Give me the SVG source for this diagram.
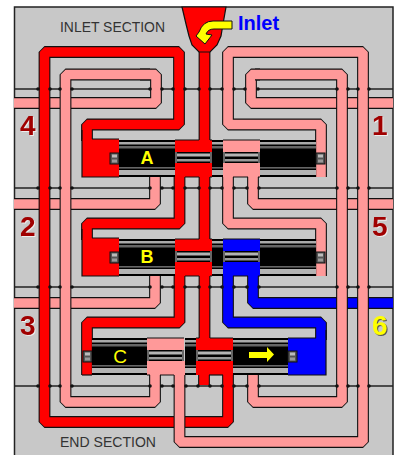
<svg xmlns="http://www.w3.org/2000/svg" width="400" height="455" viewBox="0 0 400 455">
<style>
.o{fill:none;stroke:#111;stroke-width:11.8;stroke-linejoin:bevel}
.r,.p,.b{fill:none;stroke-width:9.6;stroke-linejoin:bevel}
.r{stroke:#f00}.p{stroke:#f99}.b{stroke:#00f}
.fr{fill:#f00}.fp{fill:#f99}.fb{fill:#00f}
.e{fill:none;stroke:#111;stroke-width:1.2}
.rule{fill:none;stroke:#222;stroke-width:1.6}
.dot{fill:none;stroke:#111;stroke-width:3.6;stroke-linecap:round}
.sec{font:14px "Liberation Sans",Arial,sans-serif;fill:#333}
.num{font:bold 28px "Liberation Sans",Arial,sans-serif;fill:#a00000;filter:drop-shadow(1px 1px 0 #eee)}
.let{font:bold 18px "Liberation Sans",Arial,sans-serif;fill:#ff0;text-anchor:middle}
</style>
<defs>
<g id="bar"><rect width="1" height="37" fill="#000"/><rect y="2" width="1" height="2.5" fill="#aaa"/><rect y="6" width="1" height="2.5" fill="#666"/><rect y="27" width="1" height="1.6" fill="#666"/><rect y="30" width="1" height="5" fill="#b4b4b4"/></g>
<g id="rod"><rect width="37" height="11" fill="#000"/><rect y="1.5" width="37" height="3" fill="#b4b4b4"/><rect y="7" width="37" height="2.5" fill="#999"/><rect width="2" height="11" fill="#666"/><rect x="35" width="2" height="11" fill="#666"/></g>
<g id="nub"><rect width="9" height="11" fill="#555" stroke="#111"/><rect x="2" y="1.5" width="5" height="3" fill="#bbb"/><rect x="2" y="6.5" width="5" height="3" fill="#999"/></g>
<path id="c1" d="M87 141V124.5H179V52H44.5V422H228V374"/>
<path id="c2" d="M87 240V223.5H179.5V175"/>
<path id="c3" d="M87 375V322.5H179.5V274"/>
<path id="s1" d="M204.5 45V142"/>
<path id="s2" d="M204.5 175V241"/>
<path id="s3" d="M204.5 274V340"/>
<path id="s4" d="M204 373V385"/>
<path id="b4" d="M140 74.5H156V103H14"/>
<path id="l4" d="M155 372V402H65.5V74.5H150"/>
<path id="b2" d="M155 175V204H14"/>
<path id="b3" d="M155 274V303H14"/>
<path id="b1" d="M260 74.5H251V103H393"/>
<path id="l1" d="M253 372V402H342V74.5H255"/>
<path id="b5" d="M253 175V204H393"/>
<path id="b6" d="M253 274V303H393"/>
<path id="l5" d="M179.5 372V442H363V52H228V124.5H321V177"/>
<path id="l6" d="M228 175V223.5H321V276"/>
<path id="l7" d="M228 274V322.5H321V340"/>
</defs>
<rect width="400" height="455" fill="#fff"/>
<rect x="14.5" y="7" width="378.5" height="460" fill="#c8c8c8" stroke="#222" stroke-width="1.5"/>
<g id="connectors">
<path class="rule" d="M14 89H393M14 188H393M14 287H393M14 386H393"/>
<use href="#b4" class="o"/><use href="#b4" class="p"/>
<use href="#b2" class="o"/><use href="#b2" class="p"/>
<use href="#b3" class="o"/><use href="#b3" class="p"/>
<use href="#b1" class="o"/><use href="#b1" class="p"/>
<use href="#b5" class="o"/><use href="#b5" class="p"/>
<use href="#b6" class="o"/><use href="#b6" class="b"/>
<use href="#c1" class="o"/><use href="#c1" class="r"/>
<use href="#c2" class="o"/><use href="#c2" class="r"/>
<use href="#c3" class="o"/><use href="#c3" class="r"/>
<use href="#s1" class="o"/><use href="#s1" class="r"/>
<use href="#s2" class="o"/><use href="#s2" class="r"/>
<use href="#s3" class="o"/><use href="#s3" class="r"/>
<use href="#s4" class="o"/><use href="#s4" class="r"/>
<use href="#l7" class="o"/><use href="#l7" class="b"/>
<use href="#l6" class="o"/><use href="#l6" class="p"/>
<use href="#l4" class="o"/><use href="#l4" class="p"/>
<use href="#l1" class="o"/><use href="#l1" class="p"/>
<use href="#l5" class="o"/><use href="#l5" class="p"/>
<path class="dot" d="M38 89h.01M50 89h.01M60 89h.01M72 89h.01M150 89h.01M162 89h.01M173 89h.01M185 89h.01M199 89h.01M210 89h.01M222 89h.01M234 89h.01M245 89h.01M258 89h.01M337 89h.01M348 89h.01M358 89h.01M369 89h.01
M38 188h.01M50 188h.01M60 188h.01M72 188h.01M150 188h.01M162 188h.01M173 188h.01M185 188h.01M199 188h.01M210 188h.01M222 188h.01M234 188h.01M247 188h.01M259 188h.01M337 188h.01M348 188h.01M358 188h.01M369 188h.01
M38 287h.01M50 287h.01M60 287h.01M72 287h.01M150 287h.01M162 287h.01M173 287h.01M185 287h.01M199 287h.01M210 287h.01M222 287h.01M234 287h.01M247 287h.01M259 287h.01M337 287h.01M348 287h.01M358 287h.01M369 287h.01
M38 386h.01M50 386h.01M60 386h.01M72 386h.01M150 386h.01M162 386h.01M173 386h.01M186 386h.01M198 386h.01M210 386h.01M222 386h.01M234 386h.01M247 386h.01M259 386h.01M337 386h.01M348 386h.01M358 386h.01M369 386h.01"/>
</g>
<g id="inlet">
<path class="fr" stroke="#111" stroke-width="1.2" d="M182 7H226L223 24L221 36L217 45L210 52H199L192 45L189 36L186 24Z"/>
<path fill="#ff0" stroke="#111" d="M232 21H213Q203 21 199 32L196 36L205 44L212 35L206 34Q208 29 214 29H232Z"/>
<text x="238" y="30" style="font:bold 20px 'Liberation Sans',Arial,sans-serif;fill:#00f">Inlet</text>
</g>
<g id="valve-a">
<rect class="fr" x="82" y="139" width="37" height="38"/><path class="e" d="M92 139H119M82 130V177H119"/>
<use href="#nub" x="110" y="153"/>
<use href="#bar" transform="translate(119 140) scale(56 1)"/>
<rect class="fr" x="175" y="140" width="37" height="12"/><path class="e" d="M175 140H199M210 140H212"/>
<use href="#rod" x="175" y="152"/>
<rect class="fr" x="175" y="163" width="37" height="14"/><path class="e" d="M185 177H199M210 177H212"/>
<use href="#bar" transform="translate(212 140) scale(11 1)"/>
<rect class="fp" x="223" y="140" width="37" height="12"/><path class="e" d="M223 140H260"/>
<use href="#rod" x="223" y="152"/>
<rect class="fp" x="223" y="163" width="37" height="14"/><path class="e" d="M233 177H248M258 177H260"/>
<use href="#bar" transform="translate(260 140) scale(56 1)"/>
<use href="#nub" x="316" y="153"/>
<text class="let" x="147" y="164">A</text>
</g>
<g id="valve-b">
<rect class="fr" x="82" y="238" width="37" height="38"/><path class="e" d="M92 238H119M82 229V276H119"/>
<use href="#nub" x="110" y="252"/>
<use href="#bar" transform="translate(119 239) scale(56 1)"/>
<rect class="fr" x="175" y="239" width="37" height="12"/><path class="e" d="M175 239H199M210 239H212"/>
<use href="#rod" x="175" y="251"/>
<rect class="fr" x="175" y="262" width="37" height="14"/><path class="e" d="M185 276H199M210 276H212"/>
<use href="#bar" transform="translate(212 239) scale(11 1)"/>
<rect class="fb" x="223" y="239" width="37" height="12"/><path class="e" d="M223 239H260"/>
<use href="#rod" x="223" y="251"/>
<rect class="fb" x="223" y="262" width="37" height="14"/><path class="e" d="M233 276H248M258 276H260"/>
<use href="#bar" transform="translate(260 239) scale(56 1)"/>
<use href="#nub" x="316" y="252"/>
<text class="let" x="147" y="263">B</text>
</g>
<g id="valve-c">
<path class="e" d="M82 375H92"/>
<use href="#nub" x="83" y="351"/>
<use href="#bar" transform="translate(92 338) scale(55 1)"/>
<rect class="fp" x="147" y="338" width="37" height="12"/><path class="e" d="M147 338H184"/>
<use href="#rod" x="147" y="350"/>
<rect class="fp" x="147" y="361" width="38" height="14"/><path class="e" d="M147 375H150M160 375H174"/>
<use href="#bar" transform="translate(185 338) scale(11 1)"/>
<rect class="fr" x="196" y="338" width="37" height="12"/><path class="e" d="M196 338H199M210 338H233"/>
<use href="#rod" x="196" y="350"/>
<rect class="fr" x="196" y="361" width="37" height="14"/><path class="e" d="M209 375H223"/>
<use href="#bar" transform="translate(233 338) scale(55 1)"/>
<rect class="fb" x="288" y="338" width="38" height="37"/><path class="e" d="M288 338H316M326 330V375H288"/>
<use href="#nub" x="288" y="351"/>
<text class="let" x="120" y="363" style="font-weight:normal;font-size:19px">C</text>
<path fill="#ff0" d="M249 352H267V347L274 354.5L267 362V358H249Z"/>
</g>
<g id="labels">
<text class="sec" x="60" y="32" textLength="105" lengthAdjust="spacingAndGlyphs">INLET SECTION</text>
<text class="sec" x="60" y="447" textLength="96" lengthAdjust="spacingAndGlyphs">END SECTION</text>
<text class="num" x="20" y="135">4</text>
<text class="num" x="20" y="236">2</text>
<text class="num" x="20" y="335">3</text>
<text class="num" x="372" y="135">1</text>
<text class="num" x="372" y="236">5</text>
<text class="num" x="372" y="335" style="fill:#ff0;filter:drop-shadow(1px 1px 0 #555)">6</text>
</g>
</svg>
